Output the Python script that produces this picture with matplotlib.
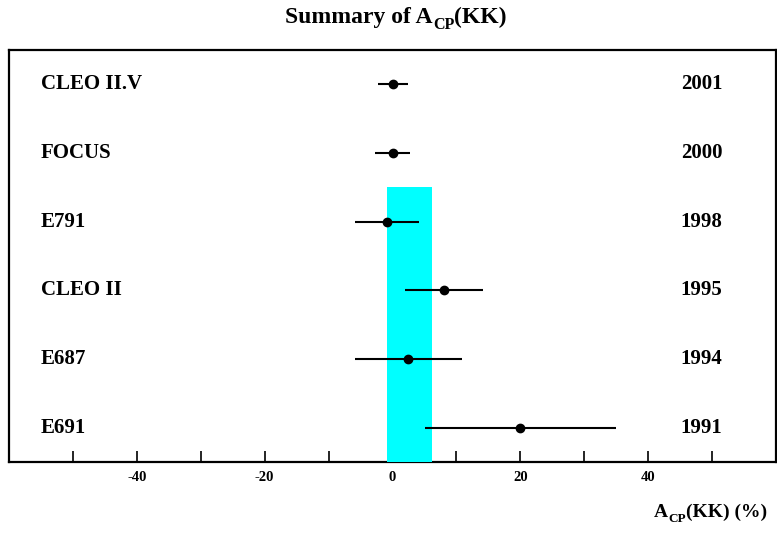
import matplotlib
matplotlib.use("Agg")
import matplotlib.pyplot as plt
from matplotlib.ticker import FixedLocator

plt.rcParams['font.family'] = ['Liberation Serif', 'DejaVu Serif']
plt.rcParams['font.weight'] = 'bold'

experiments = ["CLEO II.V", "FOCUS", "E791", "CLEO II", "E687", "E691"]
years = ["2001", "2000", "1998", "1995", "1994", "1991"]
values = [0.1, 0.0, -0.9, 8.1, 2.5, 20.0]
err_low = [2.3, 2.7, 5.0, 6.1, 8.4, 14.9]
err_high = [2.4, 2.7, 5.0, 6.0, 8.4, 15.0]
band = (-0.86, 6.2)
major_ticks = [-40, -20, 0, 20, 40]
minor_ticks = [-50, -30, -10, 10, 30, 50]

W, H = 777, 534
fig = plt.figure(figsize=(W / 100, H / 100), dpi=100)
ax = fig.add_axes([9 / W, 72 / H, 767 / W, 412 / H])

n = len(experiments)
ypos = [n - i for i in range(n)]

ax.axvspan(band[0], band[1], ymin=0, ymax=4.0 / 6.0, color='#00ffff', lw=0, zorder=2.6)
ax.errorbar(values, ypos, xerr=[err_low, err_high], fmt='o', color='black',
            ms=6, elinewidth=1.5, capsize=0, zorder=3)

for y, name, yr in zip(ypos, experiments, years):
    ax.text(-55.0, y, name, ha='left', va='center', fontsize=15, fontweight='bold')
    ax.text(45.1, y, yr, ha='left', va='center', fontsize=15, fontweight='bold')

ax.set_xlim(-60, 60)
ax.set_ylim(0.5, 6.5)
ax.xaxis.set_major_locator(FixedLocator(major_ticks))
ax.xaxis.set_minor_locator(FixedLocator(minor_ticks))
ax.set_xticklabels([str(t) for t in major_ticks], fontsize=10.5, fontweight='bold')
ax.tick_params(axis='x', which='both', direction='in', length=8, width=1.2, pad=6.5)
ax.set_yticks([])
for s in ax.spines.values():
    s.set_linewidth(1.6)

renderer = fig.canvas.get_renderer()


def rich_text(parts, x_px, base_px, align):
    """parts: list of (string, fontsize, baseline shift in px downward)."""
    objs = []
    widths = []
    for s, fs, dy in parts:
        t = fig.text(0, 0, s, fontsize=fs, fontweight='bold', ha='left', va='baseline')
        bb = t.get_window_extent(renderer)
        objs.append((t, dy))
        widths.append(bb.width)
    total = sum(widths)
    if align == 'center':
        x0 = x_px - total / 2
    elif align == 'right':
        x0 = x_px - total
    else:
        x0 = x_px
    for (t, dy), w in zip(objs, widths):
        t.set_position((x0 / W, 1 - (base_px + dy) / H))
        x0 += w


rich_text([("Summary of A", 17, 0), ("CP", 11.5, 6), ("(KK)", 17, 0)], 396, 23, 'center')
rich_text([("A", 14, 0), ("CP", 9.5, 5), ("(KK) (%)", 14, 0)], 767, 517, 'right')

fig.savefig("out.png", dpi=100)
